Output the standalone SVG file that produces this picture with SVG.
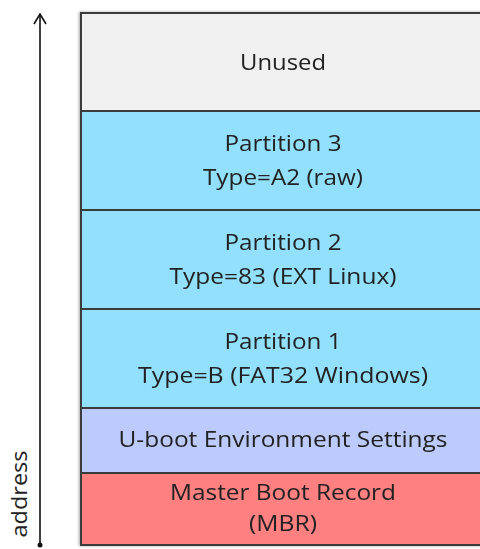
<svg xmlns="http://www.w3.org/2000/svg" width="480" height="549" viewBox="0 0 480 549">
  <defs>
    <style>
      .box { stroke: #3a3a3a; stroke-width: 2; }
      .lbl { font-family: "Open Sans", "Liberation Sans", sans-serif; font-size: 21px; fill: #222; text-anchor: middle; }
    </style>
    <marker id="open" viewBox="0 0 12 14" refX="11" refY="7" markerWidth="12" markerHeight="14" markerUnits="userSpaceOnUse" orient="auto">
      <path d="M1,1 L11,7 L1,13" fill="none" stroke="#111" stroke-width="1.6"/>
    </marker>
    <filter id="sh" x="-5%" y="-5%" width="110%" height="110%">
      <feGaussianBlur in="SourceAlpha" stdDeviation="1.5"/>
      <feOffset dx="-1" dy="0" result="b"/>
      <feComponentTransfer><feFuncA type="linear" slope="0.35"/></feComponentTransfer>
      <feMerge><feMergeNode/><feMergeNode in="SourceGraphic"/></feMerge>
    </filter>
  </defs>
  <rect width="480" height="549" fill="#fff"/>

  <g id="connectors">
    <line x1="40" y1="545" x2="40" y2="14" stroke="#111" stroke-width="1.6" marker-end="url(#open)"/>
    <circle cx="40" cy="545" r="2.5" fill="#111"/>
  </g>

  <text class="lbl" transform="translate(27,494) rotate(-90)" textLength="87" lengthAdjust="spacingAndGlyphs">address</text>

  <g filter="url(#sh)">
    <g id="unused">
      <rect class="box" x="81" y="13" width="410" height="98" fill="#f0f0f0"/>
      <text class="lbl" x="283" y="70" textLength="86" lengthAdjust="spacingAndGlyphs">Unused</text>
    </g>
    <g id="partition3">
      <rect class="box" x="81" y="111" width="410" height="99" fill="#93e0fc"/>
      <text class="lbl" x="283" y="151" textLength="117" lengthAdjust="spacingAndGlyphs">Partition 3</text>
      <text class="lbl" x="283" y="185" textLength="160" lengthAdjust="spacingAndGlyphs">Type=A2 (raw)</text>
    </g>
    <g id="partition2">
      <rect class="box" x="81" y="210" width="410" height="99" fill="#93e0fc"/>
      <text class="lbl" x="283" y="250" textLength="117" lengthAdjust="spacingAndGlyphs">Partition 2</text>
      <text class="lbl" x="283" y="284" textLength="227" lengthAdjust="spacingAndGlyphs">Type=83 (EXT Linux)</text>
    </g>
    <g id="partition1">
      <rect class="box" x="81" y="309" width="410" height="99" fill="#93e0fc"/>
      <text class="lbl" x="283" y="349" textLength="117" lengthAdjust="spacingAndGlyphs">Partition 1</text>
      <text class="lbl" x="283" y="383" textLength="290" lengthAdjust="spacingAndGlyphs">Type=B (FAT32 Windows)</text>
    </g>
    <g id="uboot">
      <rect class="box" x="81" y="408" width="410" height="65" fill="#bccbfb"/>
      <text class="lbl" x="283" y="447" textLength="329" lengthAdjust="spacingAndGlyphs">U-boot Environment Settings</text>
    </g>
    <g id="mbr">
      <rect class="box" x="81" y="473" width="410" height="72" fill="#ff8080"/>
      <text class="lbl" x="283" y="500" textLength="226" lengthAdjust="spacingAndGlyphs">Master Boot Record</text>
      <text class="lbl" x="283" y="531" textLength="68" lengthAdjust="spacingAndGlyphs">(MBR)</text>
    </g>
  </g>
</svg>
